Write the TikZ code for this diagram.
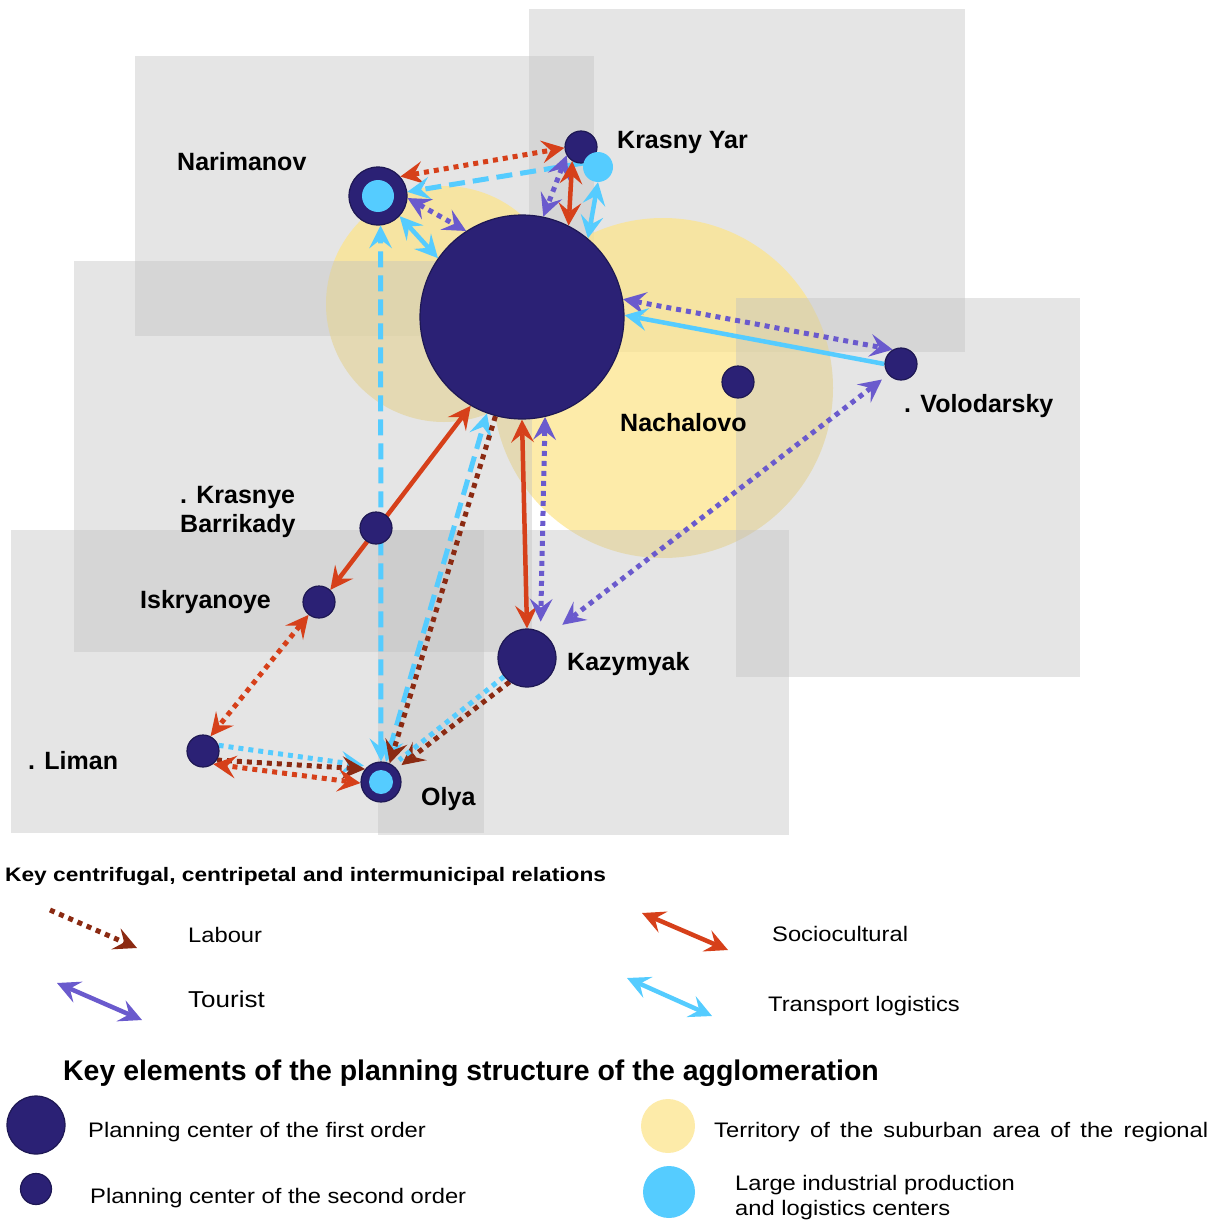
\documentclass[tikz,border=0pt]{standalone}
\usepackage{fontspec}
\setmainfont{Liberation Sans}
\newfontfamily\widefont{Liberation Sans}[FakeStretch=1.13]
\newfontfamily\widerfont{Liberation Sans}[FakeStretch=1.165]
\usetikzlibrary{arrows.meta,positioning}
\definecolor{navy}{RGB}{43,33,117}
\definecolor{navyline}{RGB}{30,24,84}
\definecolor{lblue}{RGB}{85,204,255}
\definecolor{sand}{RGB}{252,228,140}
\definecolor{zone}{RGB}{193,193,193}
\definecolor{sociocol}{RGB}{214,64,26}
\definecolor{labourcol}{RGB}{139,42,18}
\definecolor{tourcol}{RGB}{106,90,205}
\pgfdeclarelayer{zones}
\pgfdeclarelayer{links}
\pgfsetlayers{zones,links,main}
\tikzset{
    >={Stealth[length=23pt,width=23pt,inset=9pt,line width=0pt]},
    hub/.style={circle, draw=navyline, line width=1.2pt, fill=navy, inner sep=0pt, minimum size=#1},
    core/.style={circle, fill=lblue, inner sep=0pt, minimum size=#1},
    suburb/.style={fill=sand, fill opacity=0.75},
    zonebox/.style={fill=zone, fill opacity=0.42},
    place/.style={anchor=base west, inner sep=0pt, align=left, font=\bfseries\fontsize{25}{29}\selectfont},
    keytext/.style={anchor=base west, inner sep=0pt, align=left, font=\widefont\fontsize{21}{25}\selectfont},
    labour/.style={draw=labourcol, line width=5pt, dash pattern=on 5pt off 5pt},
    socio/.style={draw=sociocol, line width=4.5pt},
    sociodot/.style={draw=sociocol, line width=5pt, dash pattern=on 5pt off 5pt},
    tourist/.style={draw=tourcol, line width=5pt, dash pattern=on 5pt off 5pt},
    touristline/.style={draw=tourcol, line width=4.5pt},
    transport/.style={draw=lblue, line width=4.5pt},
    transdash/.style={draw=lblue, line width=5pt, dash pattern=on 16pt off 8pt},
    transdot/.style={draw=lblue, line width=5pt, dash pattern=on 5pt off 5pt}
}

\begin{document}
\begin{tikzpicture}[x=1pt,y=-1pt]
\useasboundingbox (0,0) rectangle (1220,1220);

% Zones
\begin{pgfonlayer}{zones}
\fill[zonebox] (135,56) rectangle (594,336);
\fill[zonebox] (529,9) rectangle (965,352);
\fill[suburb] (444,304) circle (118);
\fill[suburb] (663,388) circle (170);
\fill[zonebox] (74,261) rectangle (532,652);
\fill[zonebox] (11,530) rectangle (484,833);
\fill[zonebox] (378,530) rectangle (789,835);
\fill[zonebox] (736,298) rectangle (1080,677);
\end{pgfonlayer}

% Centres
\node[hub=204pt] (ctr) at (522,317) {};
\node[hub=58pt] (nar) at (378,196) {};
\node[core=32pt] at (nar) {};
\node[hub=32pt] (kya) at (581,147) {};
\node[core=30pt] (kyc) at (598,167) {};
\node[hub=32pt] (vol) at (901,364) {};
\node[hub=32pt] (nach) at (738,382) {};
\node[hub=32pt] (kba) at (376,528) {};
\node[hub=32pt] (isk) at (319,602) {};
\node[hub=58pt] (kaz) at (527,658) {};
\node[hub=32pt] (lim) at (203,751) {};
\node[hub=40pt] (olya) at (381,782) {};
\node[core=24pt] at (olya) {};

% Names
\node[place] (narT) at (177,170) {Narimanov};
\node[place] (kyaT) at (617,148) {Krasny Yar};
\node[place] (volT) at (904,412) {. Volodarsky};
\node[place] (nachT) at (620,431) {Nachalovo};
\node[place] (kbaT) at (180,532) {. Krasnye\\Barrikady};
\node[place] (iskT) at (140,608) {Iskryanoye};
\node[place] (kazT) at (567,670) {Kazymyak};
\node[place] (limT) at (28,769) {. Liman};
\node[place] (olyaT) at (421,805) {Olya};

% Relations
\begin{pgfonlayer}{links}
\draw[sociodot,<->] (nar.41) -- (kya.183);
\draw[transdash,->] (kyc.165) -- (nar.8);
\draw[tourist,<->] (nar.-4) -- (ctr.123);
\draw[transport,<->] (nar.-43) -- (ctr.145);
\draw[transdash,<->] (olya.90) -- (nar.-85);
\draw[tourist,<->] (kya.210) -- (ctr.78);
\draw[socio,<->] (kya.238) -- (ctr.63);
\draw[transport,<->] (kyc.270) -- (ctr.50);
\draw[tourist,<->] (ctr.10) -- (vol.120);
\draw[transport,->] (vol.180) -- (ctr.1);
\draw[tourist,<->,shorten <=8pt,shorten >=19pt] (vol.220) -- (kaz.47);
\draw[socio,<->] (ctr.270) -- (kaz.90);
\draw[tourist,<->,shorten >=10pt] (ctr.283) -- (kaz.63);
\draw[socio,<->] (isk.47) -- (ctr.240);
\draw[sociodot,<->] (isk.231) -- (lim.63);
\draw[transdash,<->] (olya.76) -- (ctr.250);
\draw[labour,->] (ctr.255) -- (olya.65);
\draw[labour,->,shorten >=6pt] (kaz.234) -- (olya.40);
\draw[transdot,shorten >=8pt] (kaz.219) -- (olya.55);
\draw[transdot,->,shorten >=4pt] (lim.20) -- (olya.130);
\draw[labour,->] (lim.-33) -- (olya.141);
\draw[sociodot,<->] (olya.183) -- (lim.-52);
\end{pgfonlayer}

% Key of relations
\node[place, font=\widerfont\bfseries\fontsize{19.5}{23}\selectfont] (keyA) at (5,881) {Key centrifugal, centripetal and intermunicipal relations};
\coordinate (labA) at (50,910);
\coordinate (labB) at (137,948);
\draw[labour,->] (labA) -- (labB);
\node[keytext] (labT) at (188,942) {Labour};
\coordinate (socA) at (642,913);
\coordinate (socB) at (728,950);
\draw[socio,<->] (socA) -- (socB);
\node[keytext] (socT) at (772,941) {Sociocultural};
\coordinate (tourA) at (57,983);
\coordinate (tourB) at (142,1020);
\draw[touristline,<->] (tourA) -- (tourB);
\node[keytext, font=\widefont\fontsize{23}{27}\selectfont] (tourT) at (188,1007) {Tourist};
\coordinate (trA) at (627,978);
\coordinate (trB) at (712,1016);
\draw[transport,<->] (trA) -- (trB);
\node[keytext] (trT) at (768,1011) {Transport logistics};

% Key of elements
\node[place, font=\bfseries\fontsize{28.45}{32}\selectfont] (keyB) at (63,1080) {Key elements of the planning structure of the agglomeration};
\node[hub=58pt] (firstK) at (36,1125) {};
\node[keytext] (firstT) at (88,1137) {Planning center of the first order};
\node[hub=31pt] (secondK) at (36,1189) {};
\node[keytext] (secondT) at (90,1203) {Planning center of the second order};
\node[circle, suburb, inner sep=0pt, minimum size=54pt] (subK) at (668,1126) {};
\node[keytext] (subT) at (714,1137) {\makebox[494pt][s]{Territory of the suburban area of the regional}};
\node[core=52pt] (indK) at (669,1192) {};
\node[keytext] (indT) at (735,1215) {Large industrial production\\and logistics centers};
\end{tikzpicture}
\end{document}
